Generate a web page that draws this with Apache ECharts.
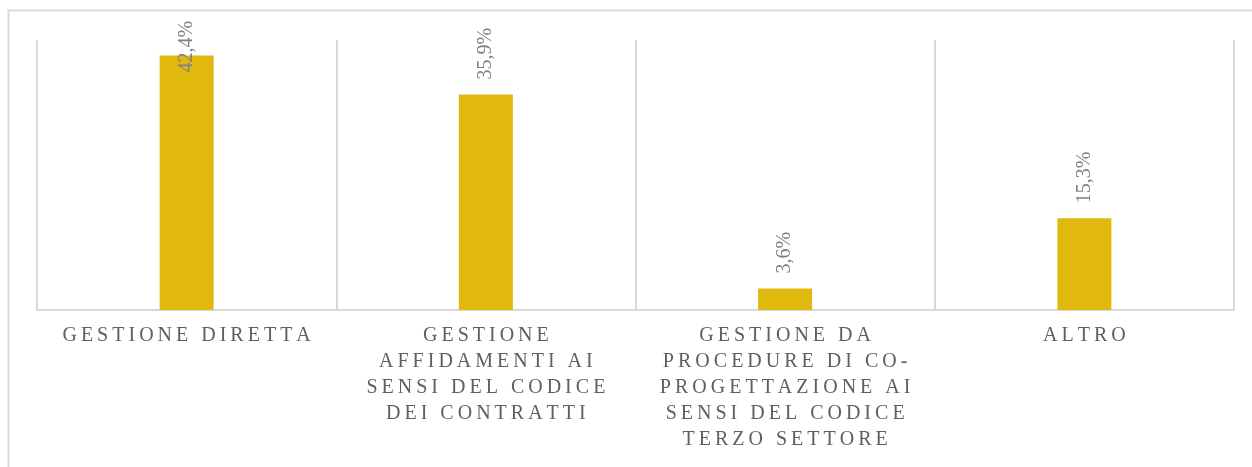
<!DOCTYPE html>
<html>
<head>
<meta charset="utf-8">
<script src="https://cdn.jsdelivr.net/npm/echarts@6/dist/echarts.min.js"></script>
<style>
  html, body { margin: 0; padding: 0; background: #fff; }
  #chart { width: 1252px; height: 467px; }
</style>
</head>
<body>
<div id="chart"></div>
<script>
const categories = [
  'GESTIONE DIRETTA',
  'GESTIONE\nAFFIDAMENTI AI\nSENSI DEL CODICE\nDEI CONTRATTI',
  'GESTIONE DA\nPROCEDURE DI CO-\nPROGETTAZIONE AI\nSENSI DEL CODICE\nTERZO SETTORE',
  'ALTRO'
]
const shares = [42.4, 35.9, 3.6, 15.3]

const gridColor = '#d9d9d9'
const serif = '"Liberation Serif", "DejaVu Serif", serif'

// spread letters a bit, the source uses tracking on the axis labels
const spaced = (s) => s.split('\n').map(l => l.split('').join('\u2009')).join('\n')

const chart = echarts.init(document.getElementById('chart'))

chart.setOption({
  animation: false,
  backgroundColor: '#fff',
  graphic: [{
    type: 'rect',
    shape: { x: 8.5, y: 10.5, width: 1260, height: 480 },
    style: { fill: 'none', stroke: gridColor, lineWidth: 2 },
    silent: true
  }],
  grid: { left: 37, right: 18, top: 40, bottom: 157 },
  xAxis: {
    type: 'category',
    data: categories,
    axisTick: { show: false },
    axisLine: { lineStyle: { color: gridColor, width: 2 } },
    splitLine: { show: true, lineStyle: { color: gridColor, width: 2 } },
    axisLabel: {
      interval: 0,
      margin: 13,
      color: '#5f5f5f',
      fontFamily: serif,
      fontSize: 20,
      lineHeight: 26,
      formatter: spaced
    }
  },
  yAxis: {
    type: 'value',
    min: 0,
    max: 45,
    show: false,
    splitLine: { show: false }
  },
  series: [{
    type: 'bar',
    barWidth: 54,
    itemStyle: { color: '#e1b80e' },
    label: {
      show: true,
      position: 'top',
      rotate: 90,
      align: 'left',
      verticalAlign: 'middle',
      distance: 15,
      color: '#808080',
      fontFamily: serif,
      fontSize: 20,
      formatter: p => p.value.toFixed(1).replace('.', ',') + '%'
    },
    // tallest label would leave the chart, pull it down over the bar
    data: shares.map((v, i) => i === 0 ? { value: v, label: { distance: -17 } } : v)
  }]
})
</script>
</body>
</html>
